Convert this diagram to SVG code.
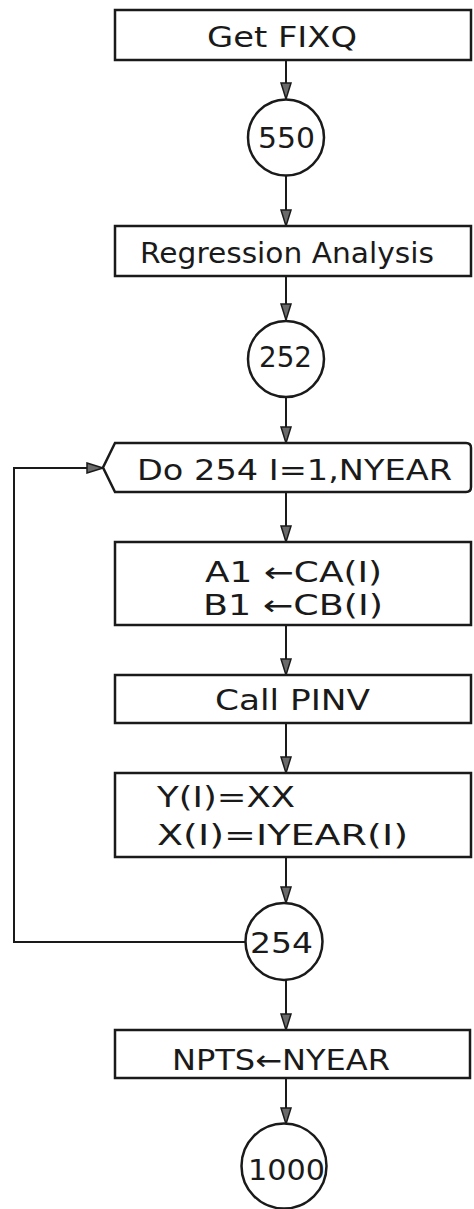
<svg xmlns="http://www.w3.org/2000/svg" width="474" height="1209" viewBox="0 0 474 1209">
<style>
.shape{fill:#fff;stroke:#1a1a1a;stroke-width:2.5}
.conn{fill:none;stroke:#1a1a1a;stroke-width:2}
.t{font-family:"DejaVu Sans","Liberation Sans",Arial,sans-serif;font-size:28px;fill:#1a1a1a}
.n{font-family:"DejaVu Sans","Liberation Sans",Arial,sans-serif;font-size:29px;fill:#1a1a1a}
</style>
<defs>
<marker id="ah" viewBox="0 0 18 12" refX="17" refY="6" markerWidth="18" markerHeight="12" markerUnits="userSpaceOnUse" orient="auto">
<path d="M1,1 L17,6 L1,11 Z" fill="#6a6a6a" stroke="#1a1a1a" stroke-width="1.5"/>
</marker>
</defs>
<rect width="474" height="1209" fill="#fff"/>
<g id="connectors">
<line class="conn" x1="286" y1="60" x2="286" y2="99" marker-end="url(#ah)"/>
<line class="conn" x1="286" y1="176" x2="286" y2="226" marker-end="url(#ah)"/>
<line class="conn" x1="286" y1="276" x2="286" y2="320" marker-end="url(#ah)"/>
<line class="conn" x1="286" y1="397" x2="286" y2="443" marker-end="url(#ah)"/>
<line class="conn" x1="286" y1="492" x2="286" y2="542" marker-end="url(#ah)"/>
<line class="conn" x1="286" y1="625" x2="286" y2="675" marker-end="url(#ah)"/>
<line class="conn" x1="286" y1="723" x2="286" y2="773" marker-end="url(#ah)"/>
<line class="conn" x1="286" y1="857" x2="286" y2="903" marker-end="url(#ah)"/>
<line class="conn" x1="286" y1="980" x2="286" y2="1030" marker-end="url(#ah)"/>
<line class="conn" x1="286" y1="1078" x2="286" y2="1124" marker-end="url(#ah)"/>
<polyline class="conn" points="246,942 14,942 14,468 103,468" marker-end="url(#ah)"/>
</g>
<g id="get-fixq">
<rect class="shape" x="115" y="10" width="356" height="50"/>
<text class="t" x="207" y="47" textLength="150" lengthAdjust="spacingAndGlyphs">Get  FIXQ</text>
</g>
<g id="c550">
<circle class="shape" cx="286" cy="137.5" r="38"/>
<text class="n" x="258" y="148" textLength="57" lengthAdjust="spacingAndGlyphs">550</text>
</g>
<g id="regression">
<rect class="shape" x="115" y="226" width="356" height="50"/>
<text class="t" x="140" y="263" textLength="294" lengthAdjust="spacingAndGlyphs">Regression Analysis</text>
</g>
<g id="c252">
<circle class="shape" cx="286" cy="359" r="38"/>
<text class="n" x="259" y="367" textLength="53" lengthAdjust="spacingAndGlyphs">252</text>
</g>
<g id="do254">
<path class="shape" d="M115,443 H466 Q471,443 471,448 V487 Q471,492 466,492 H115 L103,467.5 Z"/>
<text class="t" x="137" y="480" textLength="315" lengthAdjust="spacingAndGlyphs">Do 254 I=1,NYEAR</text>
</g>
<g id="assign-ab">
<rect class="shape" x="115" y="542" width="356" height="83"/>
<text class="t" x="205" y="582" textLength="177" lengthAdjust="spacingAndGlyphs">A1 ←CA(I)</text>
<text class="t" x="203" y="615" textLength="180" lengthAdjust="spacingAndGlyphs">B1 ←CB(I)</text>
</g>
<g id="call-pinv">
<rect class="shape" x="115" y="675" width="356" height="48"/>
<text class="t" x="215" y="710" textLength="155" lengthAdjust="spacingAndGlyphs">Call PINV</text>
</g>
<g id="assign-xy">
<rect class="shape" x="115" y="773" width="356" height="84"/>
<text class="t" x="157" y="807" textLength="138" lengthAdjust="spacingAndGlyphs">Y(I)=XX</text>
<text class="t" x="157" y="845" textLength="251" lengthAdjust="spacingAndGlyphs">X(I)=IYEAR(I)</text>
</g>
<g id="c254">
<circle class="shape" cx="284" cy="941.5" r="38.5"/>
<text class="n" x="250" y="953" textLength="63" lengthAdjust="spacingAndGlyphs">254</text>
</g>
<g id="npts">
<rect class="shape" x="115" y="1030" width="355" height="48"/>
<text class="t" x="172" y="1070" textLength="218" lengthAdjust="spacingAndGlyphs">NPTS←NYEAR</text>
</g>
<g id="c1000">
<circle class="shape" cx="284" cy="1166" r="42.5"/>
<text class="n" x="248" y="1180" textLength="77" lengthAdjust="spacingAndGlyphs">1000</text>
</g>
</svg>
